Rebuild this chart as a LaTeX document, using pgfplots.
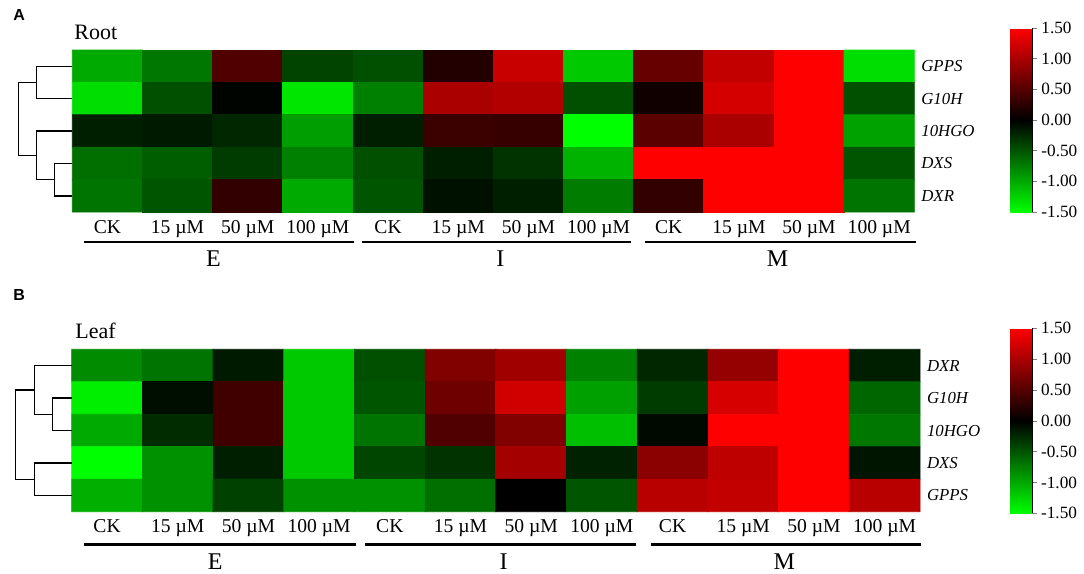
\documentclass[border=0pt]{standalone}
\usepackage{pgfplots}
\pgfplotsset{compat=1.18}
\usepackage{pgfplotstable}
\usepackage{fontspec}
\setmainfont{Liberation Serif}
\newfontfamily\arialfont{Liberation Sans}

% Root: rows GPPS, G10H, 10HGO, DXS, DXR ; columns E(CK,15,50,100) I(...) M(...)
\pgfplotstableread{
x y c
0 0 -1.00
1 0 -0.70
2 0 0.47
3 0 -0.40
4 0 -0.47
5 0 0.20
6 0 1.18
7 0 -1.18
8 0 0.60
9 0 1.15
10 0 1.50
11 0 -1.30
0 1 -1.30
1 1 -0.47
2 1 -0.02
3 1 -1.35
4 1 -0.75
5 1 1.00
6 1 1.05
7 1 -0.47
8 1 0.10
9 1 1.25
10 1 1.50
11 1 -0.47
0 2 -0.18
1 2 -0.15
2 2 -0.23
3 2 -0.93
4 2 -0.18
5 2 0.35
6 2 0.32
7 2 -1.50
8 2 0.53
9 2 1.00
10 2 1.50
11 2 -0.95
0 3 -0.65
1 3 -0.55
2 3 -0.35
3 3 -0.75
4 3 -0.47
5 3 -0.18
6 3 -0.30
7 3 -1.05
8 3 1.50
9 3 1.50
10 3 1.50
11 3 -0.50
0 4 -0.68
1 4 -0.50
2 4 0.30
3 4 -1.00
4 4 -0.50
5 4 -0.10
6 4 -0.18
7 4 -0.73
8 4 0.30
9 4 1.50
10 4 1.50
11 4 -0.68
}\rootdata

% Leaf: rows DXR, G10H, 10HGO, DXS, GPPS
\pgfplotstableread{
x y c
0 0 -0.82
1 0 -0.68
2 0 -0.15
3 0 -1.18
4 0 -0.47
5 0 0.76
6 0 0.94
7 0 -0.76
8 0 -0.23
9 0 0.88
10 0 1.50
11 0 -0.18
0 1 -1.40
1 1 -0.08
2 1 0.38
3 1 -1.18
4 1 -0.50
5 1 0.65
6 1 1.23
7 1 -0.94
8 1 -0.35
9 1 1.26
10 1 1.50
11 1 -0.60
0 2 -1.00
1 2 -0.26
2 2 0.38
3 2 -1.18
4 2 -0.68
5 2 0.47
6 2 0.76
7 2 -1.12
8 2 -0.05
9 2 1.50
10 2 1.50
11 2 -0.70
0 3 -1.50
1 3 -0.85
2 3 -0.18
3 3 -1.18
4 3 -0.41
5 3 -0.30
6 3 0.97
7 3 -0.20
8 3 0.82
9 3 1.12
10 3 1.50
11 3 -0.12
0 4 -1.03
1 4 -0.85
2 4 -0.38
3 4 -0.85
4 4 -0.85
5 4 -0.65
6 4 0.00
7 4 -0.50
8 4 1.09
9 4 1.15
10 4 1.50
11 4 1.09
}\leafdata

\pgfplotsset{
 heat/.style={
  scale only axis, anchor=north west,
  xmin=-0.5, xmax=11.5, ymin=-0.5, ymax=4.5, y dir=reverse,
  axis line style={draw=none}, major tick length=0pt,
  xtick={0,...,11},
  xticklabels={CK,15 µM,50 µM,100 µM,CK,15 µM,50 µM,100 µM,CK,15 µM,50 µM,100 µM},
  xticklabel style={anchor=base, yshift=-10.5pt, font=\fontsize{9.8}{11}\selectfont},
  ytick={0,...,4}, yticklabel pos=right,
  yticklabel style={font=\fontsize{8.4}{10}\selectfont\itshape, anchor=west},
  clip=false,
  colormap={gr}{rgb255=(0,255,0) rgb255=(0,0,0) rgb255=(255,0,0)},
  point meta min=-1.5, point meta max=1.5,
  colorbar,
 },
 cbar/.style={
  colorbar style={
   at={(parent axis.north east)}, anchor=north west,
   xshift=#1, scale only axis, width=11pt,
   ytick={-1.5,-1,-0.5,0,0.5,1,1.5},
   axis x line=none, axis y line*=right,
   tick align=outside, major tick length=2.5pt,
   yticklabel style={font=\fontsize{8.6}{10}\selectfont, xshift=-1.5pt,
     /pgf/number format/.cd, fixed, fixed zerofill, precision=2, assume math mode=true},
  }
 },
 dend/.style={black, line width=0.7pt, forget plot, no markers},
 uline/.style={black, line width=1.1pt, forget plot, no markers},
}

\begin{document}
\begin{tikzpicture}
\path[use as bounding box] (0,0) rectangle (542pt,-287pt);

\node[font=\arialfont\bfseries\fontsize{8}{9}\selectfont, anchor=base west, inner sep=0pt] at (6.5pt,-10.4pt) {A};
\node[font=\fontsize{11}{13}\selectfont, anchor=base west, inner sep=0pt] at (37pt,-19.5pt) {Root};

\begin{axis}[heat, cbar=39.5pt, at={(36.15pt,-25pt)}, width=421pt, height=81pt,
  colorbar style={yshift=11pt, height=92pt},
  yticklabels={GPPS,G10H,10HGO,DXS,DXR}]
\addplot[matrix plot*, mesh/cols=12, point meta=explicit] table[x=x, y=y, meta=c]{\rootdata};
% dendrogram
\addplot[dend] coordinates {(-0.5,0) (-1.006,0) (-1.006,1) (-0.5,1)};
\addplot[dend] coordinates {(-0.5,3) (-0.755,3) (-0.755,4) (-0.5,4)};
\addplot[dend] coordinates {(-0.5,2) (-1.006,2) (-1.006,3.5) (-0.755,3.5)};
\addplot[dend] coordinates {(-1.006,0.5) (-1.27,0.5) (-1.27,2.75) (-1.006,2.75)};
% group lines
\addplot[uline] coordinates {(-0.328,5.43) (3.509,5.43)};
\addplot[uline] coordinates {(3.633,5.43) (7.456,5.43)};
\addplot[uline] coordinates {(7.66,5.43) (11.52,5.43)};
\node[font=\fontsize{12}{14}\selectfont] at (axis cs:1.51,5.93) {E};
\node[font=\fontsize{12}{14}\selectfont] at (axis cs:5.6,5.93) {I};
\node[font=\fontsize{12}{14}\selectfont] at (axis cs:9.55,5.93) {M};
\end{axis}

\node[font=\arialfont\bfseries\fontsize{8}{9}\selectfont, anchor=base west, inner sep=0pt] at (6.5pt,-150pt) {B};
\node[font=\fontsize{11}{13}\selectfont, anchor=base west, inner sep=0pt] at (37.5pt,-169pt) {Leaf};

\begin{axis}[heat, cbar=36.5pt, at={(35.85pt,-174.65pt)}, width=424.15pt, height=81.2pt,
  colorbar style={yshift=10.5pt, height=92.5pt},
  yticklabels={DXR,G10H,10HGO,DXS,GPPS}]
\addplot[matrix plot*, mesh/cols=12, point meta=explicit] table[x=x, y=y, meta=c]{\leafdata};
\addplot[dend] coordinates {(-0.5,1) (-0.769,1) (-0.769,2) (-0.5,2)};
\addplot[dend] coordinates {(-0.5,0) (-1.028,0) (-1.028,1.5) (-0.769,1.5)};
\addplot[dend] coordinates {(-0.5,3) (-1.028,3) (-1.028,4) (-0.5,4)};
\addplot[dend] coordinates {(-1.028,0.75) (-1.295,0.75) (-1.295,3.5) (-1.028,3.5)};
\addplot[uline] coordinates {(-0.32,5.51) (3.527,5.51)};
\addplot[uline] coordinates {(3.649,5.51) (7.478,5.51)};
\addplot[uline] coordinates {(7.69,5.51) (11.51,5.51)};
\node[font=\fontsize{12}{14}\selectfont] at (axis cs:1.53,6.05) {E};
\node[font=\fontsize{12}{14}\selectfont] at (axis cs:5.61,6.05) {I};
\node[font=\fontsize{12}{14}\selectfont] at (axis cs:9.58,6.05) {M};
\end{axis}
\end{tikzpicture}
\end{document}
